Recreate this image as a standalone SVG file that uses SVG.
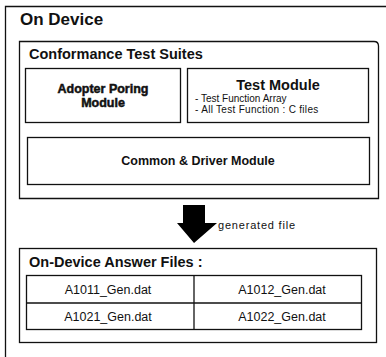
<svg xmlns="http://www.w3.org/2000/svg" width="386" height="357" viewBox="0 0 386 357">
<style>
.box{fill:#fff;stroke:#111;stroke-width:1.3}
.b{font-family:"Liberation Sans",Arial,sans-serif;font-weight:bold;fill:#111}
.r{font-family:"Liberation Sans",Arial,sans-serif;fill:#111}
</style>
<rect width="386" height="357" fill="#fff"/>
<g id="on-device">
<path class="box" d="M5.5,360 L5.5,6.5 L390,6.5"/>
<text class="b" x="20" y="25" font-size="17">On Device</text>
</g>
<g id="conformance">
<path class="box" d="M19.5,41.5 L374,41.5 Q378.5,41.5 378.5,46 L378.5,198.5 L19.5,198.5 Z"/>
<text class="b" x="29" y="59" font-size="14.5">Conformance Test Suites</text>
</g>
<g id="adopter">
<rect class="box" x="25.5" y="68.5" width="155" height="54"/>
<text class="b" x="103" y="93" font-size="12.5" text-anchor="middle" stroke="#111" stroke-width="0.5">Adopter Poring</text>
<text class="b" x="103" y="107" font-size="12.5" text-anchor="middle" stroke="#111" stroke-width="0.5">Module</text>
</g>
<g id="test-module">
<rect class="box" x="187.5" y="68.5" width="181" height="54"/>
<text class="b" x="278" y="90" font-size="14.5" text-anchor="middle">Test Module</text>
<text class="r" x="195" y="102" font-size="10">- Test Function Array</text>
<text class="r" x="195" y="113" font-size="10" letter-spacing="0.3">- All Test Function : C files</text>
</g>
<g id="common">
<rect class="box" x="27.5" y="137.5" width="342" height="47"/>
<text class="b" x="198" y="165" font-size="12.5" text-anchor="middle">Common &amp; Driver Module</text>
</g>
<g id="connectors">
<path d="M183,205 L205,205 L205,223 L217,223 L194,243 L177,223 L183,223 Z" fill="#000"/>
<text class="r" x="218" y="229" font-size="11" letter-spacing="0.8">generated file</text>
</g>
<g id="answer-files">
<rect class="box" x="19.5" y="248.5" width="357" height="94"/>
<text class="b" x="29" y="267" font-size="14.5">On-Device Answer Files :</text>
<rect class="box" x="26.5" y="275.5" width="335" height="54"/>
<line x1="26.5" y1="303" x2="361.5" y2="303" stroke="#111" stroke-width="1.3"/>
<line x1="194" y1="275.5" x2="194" y2="329.5" stroke="#111" stroke-width="1.3"/>
<text class="r" x="108" y="294" font-size="12.5" text-anchor="middle">A1011_Gen.dat</text>
<text class="r" x="282" y="294" font-size="12.5" text-anchor="middle">A1012_Gen.dat</text>
<text class="r" x="108" y="321" font-size="12.5" text-anchor="middle">A1021_Gen.dat</text>
<text class="r" x="282" y="321" font-size="12.5" text-anchor="middle">A1022_Gen.dat</text>
</g>
</svg>
